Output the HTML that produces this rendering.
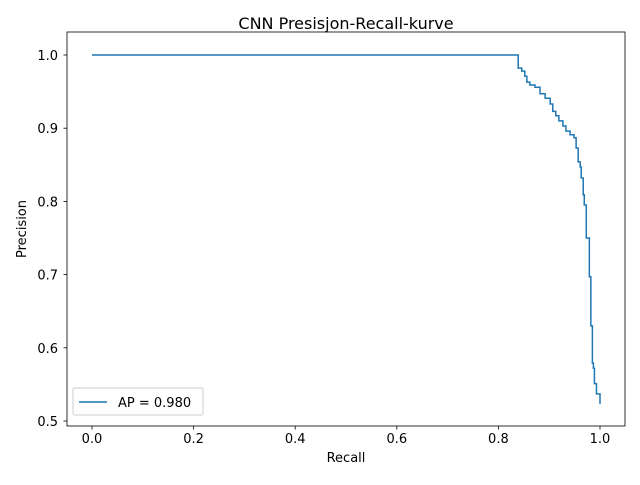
<!DOCTYPE html>
<html><head><meta charset="utf-8"><style>
body{margin:0;background:#fff;font-family:"Liberation Sans","DejaVu Sans",sans-serif}
svg text{font-family:"DejaVu Sans","Liberation Sans",sans-serif;fill:#000}
</style></head><body>
<svg id="chart" width="640" height="480" viewBox="0 0 640 480">
<rect width="640" height="480" fill="#fff"/>
<text x="346" y="29" font-size="16" text-anchor="middle">CNN Presisjon-Recall-kurve</text>
<g id="ticks"></g>
<path id="curve" fill="none" stroke="#1f77b4" stroke-width="1.5"/>
<rect x="67" y="32" width="558" height="394" fill="none" stroke="#000" stroke-width="0.8"/>
<text x="346" y="462" font-size="13" text-anchor="middle">Recall</text>
<text x="26" y="229" font-size="13" text-anchor="middle" transform="rotate(-90 26 229)">Precision</text>
<g>
<rect x="73" y="388" width="130" height="27" rx="2" fill="#fff" fill-opacity="0.8" stroke="#ccc"/>
<line x1="79" y1="402" x2="107" y2="402" stroke="#1f77b4" stroke-width="1.5"/>
<text x="118" y="407" font-size="13">AP = 0.980</text>
</g>
</svg>
<script>
const recall=[0,0.839,0.846,0.852,0.856,0.862,0.872,0.882,0.892,0.902,0.907,0.913,0.919,0.927,0.933,0.941,0.949,0.953,0.957,0.961,0.963,0.967,0.969,0.973,0.979,0.982,0.985,0.987,0.989,0.993,1.0];
const precision=[1.0,0.982,0.978,0.971,0.963,0.959,0.956,0.947,0.941,0.933,0.923,0.917,0.910,0.903,0.896,0.891,0.887,0.873,0.854,0.847,0.832,0.809,0.795,0.750,0.697,0.630,0.579,0.572,0.551,0.537,0.523];
const xTicks=[0,0.2,0.4,0.6,0.8,1.0];
const yTicks=[0.5,0.6,0.7,0.8,0.9,1.0];
const X=v=>92+v*508, Y=v=>55+(1-v)*732;
let d='M'+X(recall[0])+' '+Y(precision[0]);
for(let i=1;i<recall.length;i++){d+=' H'+X(recall[i])+' V'+Y(precision[i]);}
document.getElementById('curve').setAttribute('d',d);
const g=document.getElementById('ticks'),NS='http://www.w3.org/2000/svg';
function mk(t,a){const e=document.createElementNS(NS,t);for(const k in a)e.setAttribute(k,a[k]);g.appendChild(e);return e;}
xTicks.forEach(v=>{
const l=mk('line',{x1:X(v),x2:X(v),y1:426,y2:429.5,stroke:'#000','stroke-width':0.8});


const t=mk('text',{x:X(v),y:443,'font-size':13,'text-anchor':'middle'});t.textContent=v.toFixed(1);


});
yTicks.forEach(v=>{
const l=mk('line',{x1:63.5,x2:67,y1:Y(v),y2:Y(v),stroke:'#000','stroke-width':0.8});


const t=mk('text',{x:58,y:Y(v)+5,'font-size':13,'text-anchor':'end'});t.textContent=v.toFixed(1);


});
</script>
</body></html>
